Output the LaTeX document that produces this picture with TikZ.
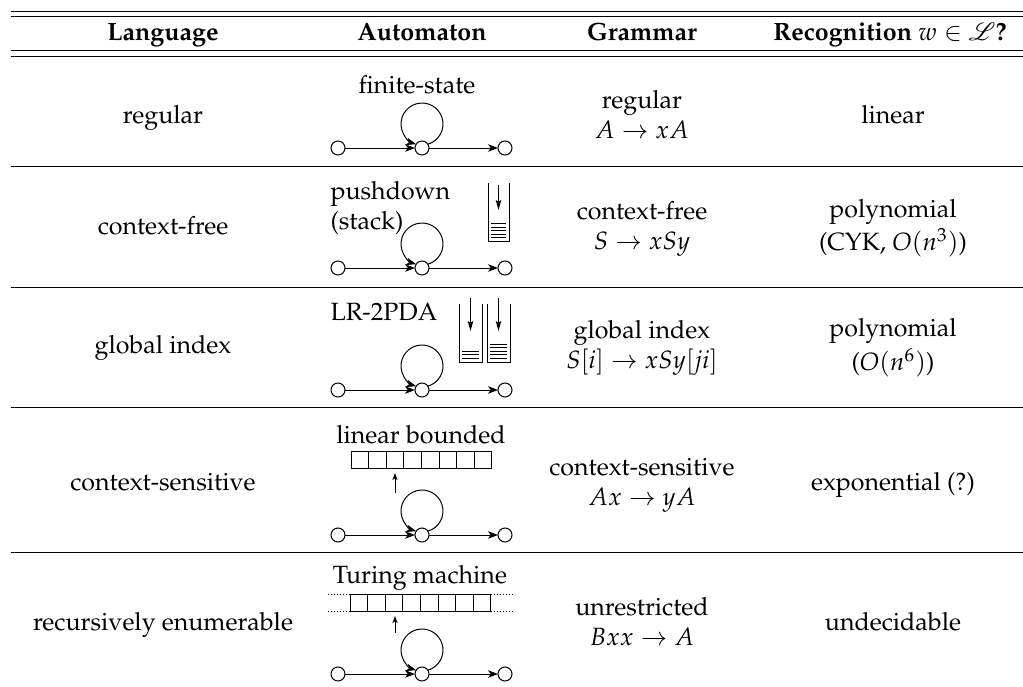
\documentclass[tikz,border=0pt]{standalone}
\usepackage[T1]{fontenc}
\usepackage{mathpazo}
\usepackage{mathrsfs}
\usetikzlibrary{arrows.meta}
\begin{document}
\begin{tikzpicture}[x=0.4pt,y=0.4pt,
  state/.style={circle,draw,line width=0.4pt,minimum size=5.6pt,inner sep=0pt,outer sep=0pt},
  trans/.style={line width=0.4pt,-{Stealth[length=4pt,width=3pt,inset=1.1pt]}},
  head/.style={line width=0.4pt,-{Stealth[length=2.8pt,width=2pt,inset=0.7pt]},shorten >=2pt},
  push/.style={line width=0.4pt,-{Stealth[length=4pt,width=2.2pt,inset=0.7pt]}},
  rule/.style={line width=0.4pt},
  hdr/.style={font=\bfseries,anchor=base,inner sep=0pt},
  cell/.style={align=center,inner sep=0pt},
  lbl/.style={inner sep=0pt},
  tape/.style={draw,line width=0.4pt,minimum width=56pt,minimum height=6.8pt,inner sep=0pt,outer sep=0pt},
  tapedots/.style={line width=0.4pt,dash pattern=on 0.4pt off 0.8pt}
]
\useasboundingbox (0,0) rectangle (1023,-687);

% table rules
\foreach \y in {11,16.5,50,56,166,287,407,552}
  \draw[rule] (11,-\y) -- (1023,-\y);

% header
\node[hdr] (h1) at (163,-40) {Language};
\node[hdr] (h2) at (422,-40) {Automaton};
\node[hdr] (h3) at (642,-40) {Grammar};
\node[hdr] (h4) at (890,-40) {Recognition $w\in\mathscr{L}$?};

% language column
\node[cell] (l1) at (163,-117) {\strut regular};
\node[cell] (l2) at (163,-228) {\strut context-free};
\node[cell] (l3) at (163,-347.5) {\strut global index};
\node[cell] (l4) at (163,-484) {\strut context-sensitive};
\node[cell] (l5) at (163,-624) {\strut recursively enumerable};

% grammar column
\node[cell] (g1) at (642,-117) {\strut regular\\$A\to xA$\strut};
\node[cell] (g2) at (642,-228) {\strut context-free\\$S\to xSy$\strut};
\node[cell] (g3) at (642,-347.5) {\strut global index\\$S[i]\to xSy[ji]$\strut};
\node[cell] (g4) at (642,-484) {\strut context-sensitive\\$Ax\to yA$\strut};
\node[cell] (g5) at (642,-624) {\strut unrestricted\\$Bxx\to A$\strut};

% recognition column
\node[cell] (r1) at (893,-117) {\strut linear};
\node[cell] (r2) at (893,-228) {\strut polynomial\\(CYK, $O(n^3)$)\strut};
\node[cell] (r3) at (893,-347.5) {\strut polynomial\\($O(n^6)$)\strut};
\node[cell] (r4) at (893,-484) {\strut exponential (?)};
\node[cell] (r5) at (893,-624) {\strut undecidable};

% automata: start state, looping state, final state
\foreach \i/\y in {1/148,2/268,3/390,4/535,5/674}{
  \node[state] (a\i) at (338,-\y) {};
  \node[state] (b\i) at (422,-\y) {};
  \node[state] (c\i) at (505,-\y) {};
  \draw[trans] (a\i) -- (b\i);
  \draw[trans] (b\i) -- (c\i);
  \draw[trans] (b\i.33) arc[start angle=-73.8,end angle=253.8,radius=8.4pt];
}

% automaton names
\node[lbl,anchor=base] (n1) at (417,-93) {finite-state};
\node[lbl,anchor=north west,align=left] (n2) at (330,-181) {pushdown\\(stack)};
\node[lbl,anchor=base west] (n3) at (330,-320) {LR-2PDA};
\node[lbl,anchor=base] (n4) at (421,-443) {linear bounded};
\node[lbl,anchor=base] (n5) at (420,-583) {Turing machine};

% one stack
\draw[line width=0.4pt] (488,-183) |- (509,-241) -- (509,-183);
\draw[push] (498.5,-185) -- (498.5,-210);
\foreach \y in {223.5,227,230.5,234,237.5}
  \draw[line width=0.3pt] (491,-\y) -- (506,-\y);

% two stacks
\draw[line width=0.4pt] (459,-304) |- (482,-362) -- (482,-304);
\draw[line width=0.4pt] (487,-304) |- (510,-362) -- (510,-304);
\draw[push] (470.5,-298) -- (470.5,-331);
\draw[push] (498.5,-298) -- (498.5,-331);
\foreach \y in {351,354.5,358}
  \draw[line width=0.3pt] (462,-\y) -- (479,-\y);
\foreach \y in {344,347.5,351,354.5,358}
  \draw[line width=0.3pt] (490,-\y) -- (507,-\y);

% bounded tape
\node[tape] (t4) at (421.5,-459.5) {};
\foreach \k in {1,...,7}
  \draw[line width=0.4pt] ([xshift=\k*7pt]t4.south west) -- ([xshift=\k*7pt]t4.north west);
\coordinate (p4) at (395,-493);
\draw[head] (p4) -- (p4 |- t4.south);

% unbounded tape
\node[tape] (t5) at (420.5,-602.5) {};
\foreach \k in {1,...,7}
  \draw[line width=0.4pt] ([xshift=\k*7pt]t5.south west) -- ([xshift=\k*7pt]t5.north west);
\draw[tapedots] (t5.north west) -- ++(-9.2pt,0);
\draw[tapedots] (t5.south west) -- ++(-9.2pt,0);
\draw[tapedots] (t5.north east) -- ++(9pt,0);
\draw[tapedots] (t5.south east) -- ++(9pt,0);
\coordinate (p5) at (395,-633);
\draw[head] (p5) -- (p5 |- t5.south);
\end{tikzpicture}
\end{document}
